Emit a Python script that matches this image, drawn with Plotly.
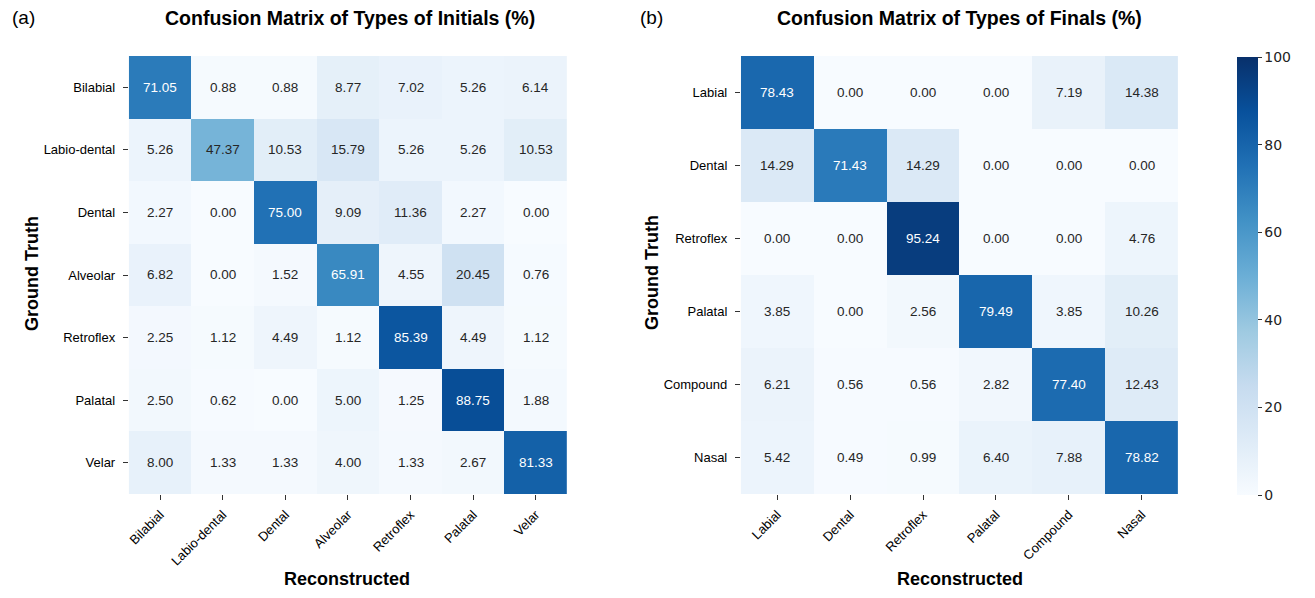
import plotly.graph_objects as go

init_labels = ["Bilabial", "Labio-dental", "Dental", "Alveolar", "Retroflex", "Palatal", "Velar"]
init_values = [
    [71.05, 0.88, 0.88, 8.77, 7.02, 5.26, 6.14],
    [5.26, 47.37, 10.53, 15.79, 5.26, 5.26, 10.53],
    [2.27, 0.00, 75.00, 9.09, 11.36, 2.27, 0.00],
    [6.82, 0.00, 1.52, 65.91, 4.55, 20.45, 0.76],
    [2.25, 1.12, 4.49, 1.12, 85.39, 4.49, 1.12],
    [2.50, 0.62, 0.00, 5.00, 1.25, 88.75, 1.88],
    [8.00, 1.33, 1.33, 4.00, 1.33, 2.67, 81.33],
]

final_labels = ["Labial", "Dental", "Retroflex", "Palatal", "Compound", "Nasal"]
final_values = [
    [78.43, 0.00, 0.00, 0.00, 7.19, 14.38],
    [14.29, 71.43, 14.29, 0.00, 0.00, 0.00],
    [0.00, 0.00, 95.24, 0.00, 0.00, 4.76],
    [3.85, 0.00, 2.56, 79.49, 3.85, 10.26],
    [6.21, 0.56, 0.56, 2.82, 77.40, 12.43],
    [5.42, 0.49, 0.99, 6.40, 7.88, 78.82],
]

colorbar_ticks = [0, 20, 40, 60, 80, 100]

blues = ["#f7fbff", "#deebf7", "#c6dbef", "#9ecae1", "#6baed6",
         "#4292c6", "#2171b5", "#08519c", "#08306b"]
cscale = [[i / (len(blues) - 1), c] for i, c in enumerate(blues)]

FONT = "Liberation Sans, Arial, Helvetica, sans-serif"

fig = go.Figure()

fig.add_trace(go.Heatmap(
    z=init_values, x=init_labels, y=init_labels, coloraxis="coloraxis",
    xaxis="x", yaxis="y",
))
fig.add_trace(go.Heatmap(
    z=final_values, x=final_labels, y=final_labels, coloraxis="coloraxis",
    xaxis="x2", yaxis="y2",
))

W, H = 1315, 598
def px(x):
    return x / W
def py(y):
    return 1 - y / H

annotations = []
for labels, vals, xr, yr in [(init_labels, init_values, "x", "y"),
                             (final_labels, final_values, "x2", "y2")]:
    for i, row in enumerate(vals):
        for j, v in enumerate(row):
            annotations.append(dict(
                x=labels[j], y=labels[i], xref=xr, yref=yr,
                text=f"{v:.2f}", showarrow=False,
                font=dict(family=FONT, size=13.5,
                          color="#ffffff" if v >= 50 else "#262626"),
            ))

def add_text(text, x, y, size=18, bold=True, angle=0):
    annotations.append(dict(
        text=f"<b>{text}</b>" if bold else text, x=px(x), y=py(y),
        xref="paper", yref="paper", showarrow=False, textangle=angle,
        xanchor="center", yanchor="middle",
        font=dict(family=FONT, size=size, color="#000000"),
    ))

add_text("(a)", 22, 18, size=19, bold=False)
add_text("(b)", 650, 18, size=19, bold=False)
add_text("Confusion Matrix of Types of Initials (%)", 349, 18, size=19.5)
add_text("Confusion Matrix of Types of Finals (%)", 959, 18, size=19.5)
add_text("Ground Truth", 30, 273, angle=-90)
add_text("Ground Truth", 651, 273, angle=-90)
add_text("Reconstructed", 346, 579)
add_text("Reconstructed", 959, 579)

tickfont = dict(family=FONT, size=13, color="#000000")
axis_common = dict(showgrid=False, zeroline=False, showline=False,
                   ticks="outside", ticklen=5, tickcolor="#333333",
                   tickfont=tickfont)

fig.update_layout(
    width=W, height=H,
    margin=dict(l=0, r=0, t=0, b=0),
    paper_bgcolor="white", plot_bgcolor="white",
    xaxis=dict(domain=[px(127), px(566)], anchor="y", tickangle=-45,
               ticklabelstandoff=2, **axis_common),
    yaxis=dict(domain=[py(494), py(56)], anchor="x", autorange="reversed",
               ticklabelstandoff=5, **axis_common),
    xaxis2=dict(domain=[px(740), px(1178)], anchor="y2", tickangle=-45,
                ticklabelstandoff=2, **axis_common),
    yaxis2=dict(domain=[py(494), py(56)], anchor="x2", autorange="reversed",
                ticklabelstandoff=5, **axis_common),
    coloraxis=dict(
        colorscale=cscale, cmin=0, cmax=100,
        colorbar=dict(
            x=px(1237), xanchor="left", y=py(495), yanchor="bottom",
            xpad=0, ypad=0,
            len=(495 - 57) / H, lenmode="fraction", thickness=21,
            outlinewidth=0, ticks="outside", ticklen=4, tickcolor="#333333",
            tickvals=colorbar_ticks,
            tickfont=dict(family="DejaVu Sans", size=14, color="#222222"),
        ),
    ),
    annotations=annotations,
)

fig.write_html("out.html", config={"displayModeBar": False},
               post_script="document.body.style.margin='0';")
